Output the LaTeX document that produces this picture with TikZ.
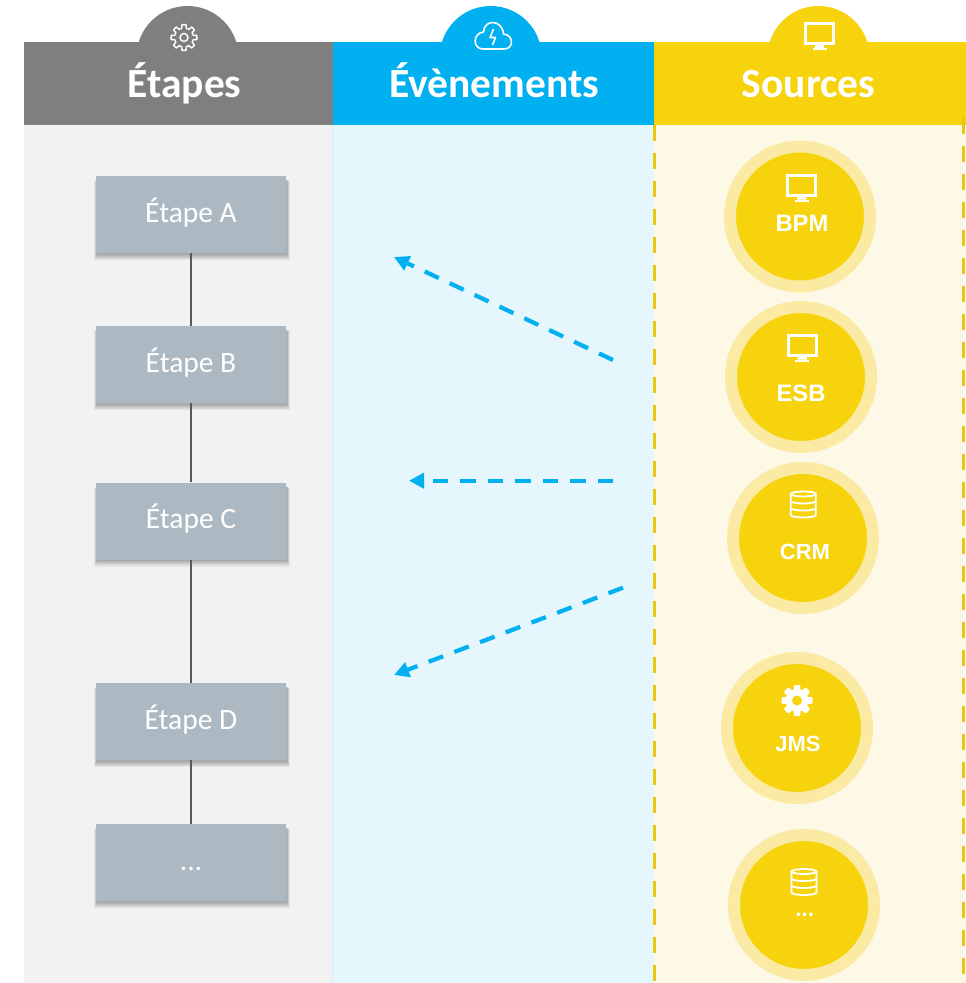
\documentclass[tikz,border=0pt]{standalone}
\usepackage{fontspec}
\newfontfamily\carlito{Carlito}
\newfontfamily\arialf{Liberation Sans}
\usetikzlibrary{arrows.meta,calc}
\definecolor{hgray}{HTML}{7F7F7F}
\definecolor{evblue}{HTML}{00B0F0}
\definecolor{yel}{HTML}{F6D30C}
\definecolor{bggray}{HTML}{F2F2F2}
\definecolor{bgblue}{HTML}{E5F6FD}
\definecolor{bgyel}{HTML}{FEF8E7}
\definecolor{ring}{HTML}{FAEAA3}
\definecolor{boxc}{HTML}{ADB9C2}
\definecolor{connc}{HTML}{595959}
\definecolor{ydashc}{HTML}{E9C610}
\definecolor{sepc}{HTML}{DFE8EC}
\tikzset{
  monitor/.pic={
    \draw[white,line width=3pt] (-14,-12) rectangle (14,8);
    \fill[white] (-4,9.5) -- (4,9.5) -- (5,12.5) -- (-5,12.5) -- cycle;
    \fill[white] (-7,12.5) rectangle (7,14.5);
  },
  dbicon/.pic={
    \draw[white,line width=1.8pt] (0,-10.5) ellipse (12.5 and 2.5);
    \draw[white,line width=1.8pt] (-12.5,-10.5) -- (-12.5,10.5)
      arc[start angle=180,end angle=0,x radius=12.5,y radius=2.5] -- (12.5,-10.5);
    \draw[white,line width=1.8pt] (-12.5,-3.5) arc[start angle=180,end angle=0,x radius=12.5,y radius=2.5];
    \draw[white,line width=1.8pt] (-12.5,3.5) arc[start angle=180,end angle=0,x radius=12.5,y radius=2.5];
  },
  gearf/.pic={
    \fill[white] (0,0) circle (11.5);
    \foreach \a in {0,45,...,315}
      \fill[white,rotate=\a,rounded corners=1pt] (-3.4,-15.5) rectangle (3.4,-8);
    \fill[yel] (0,0) circle (5);
  },
  gearo/.pic={
    \draw[white,line width=1.4pt,line join=round] (-14:9.5)
      \foreach \a in {0,45,...,315}{ -- (\a-14:9.5) -- (\a-9:13) -- (\a+9:13) -- (\a+14:9.5) } -- cycle;
    \draw[white,line width=1.4pt] (0,0) circle (4);
  },
  cloud/.pic={
    \draw[white,line width=1.6pt,line join=round] (-10,13) -- (11,13)
      .. controls (21,13) and (21,-1) .. (10.5,-2)
      .. controls (9,-17) and (-9,-17) .. (-9.5,-4)
      .. controls (-20.5,-3) and (-20.5,13) .. (-10,13) -- cycle;
    \draw[white,line width=1.6pt,line join=round] (0.5,-7) -- (-3,1.5) -- (2.5,1.5) -- (-0.5,9);
  },
  softshadow/.pic={
    \foreach \k in {0,1,...,5}
      \fill[black,opacity=0.055] (-95+1-\k*0.6,-38.5+3.5+\k*0.3) rectangle (95+1+\k*0.6,38.5+1.5+\k*1.1);
  }
}
\begin{document}
\begin{tikzpicture}[x=1pt,y=-1pt,
  stagebox/.style={rectangle, fill=boxc, minimum width=190pt, minimum height=77pt, inner sep=0pt,
    text=white, font=\carlito\fontsize{29.5}{29.5}\selectfont, text height=20pt, text depth=5pt},
  src/.style={circle, fill=yel, draw=ring, line width=12pt, minimum size=140pt, inner sep=0pt},
  srclabel/.style={anchor=base, text=white, font=\arialf\bfseries\fontsize{22}{22}\selectfont, inner sep=0pt},
  srcbig/.style={srclabel, font=\arialf\bfseries\fontsize{23.8}{24}\selectfont},
  head/.style={anchor=base, text=white, font=\carlito\bfseries\fontsize{41.5}{41.5}\selectfont, inner sep=0pt},
  conn/.style={draw=connc, line width=1.5pt},
  evarrow/.style={draw=evblue, line width=4.2pt, dash pattern=on 15.5pt off 12pt, -{Triangle[length=15pt,width=15pt]}},
  ydash/.style={draw=ydashc, line width=3pt, dash pattern=on 16pt off 12pt}
]
\useasboundingbox (0,0) rectangle (966,983);
\fill[white] (0,0) rectangle (966,983);
% column backgrounds
\fill[bggray] (24,125) rectangle (332,983);
\fill[bgblue] (332,125) rectangle (654,983);
\fill[bgyel] (654,125) rectangle (966,983);
\draw[sepc,line width=1pt] (332,125) -- (332,983);
% header tabs
\fill[hgray] (187.5,57) circle (51);
\fill[evblue] (490.7,57) circle (51);
\fill[yel] (818.5,57) circle (51);
% header bars
\fill[hgray] (24,42) rectangle (333,125);
\fill[evblue] (333,42) rectangle (654,125);
\fill[yel] (654,42) rectangle (966,125);
% header icons
\pic (hgear) at (184,37.5) {gearo};
\pic (hcloud) at (493,36) {cloud};
\pic (hmon) at (819.5,35.5) {monitor};
% header titles
\node[head] (hetapes) at (184.5,97) {Étapes};
\node[head] (hevents) at (494,97) {Évènements};
\node[head] (hsources) at (808.5,97) {Sources};
% dashed borders of sources column
\draw[ydash] (654,125) -- (654,983);
\draw[ydash] (963,118) -- (963,983);
% stage shadows
\pic (sha) at (191,214.5) {softshadow};
\pic (shb) at (191,364.5) {softshadow};
\pic (shc) at (191,521) {softshadow};
\pic (shd) at (191,721.5) {softshadow};
\pic (she) at (191,862.5) {softshadow};
% stages
\node[stagebox] (sa) at (191,214.5) {Étape A};
\node[stagebox] (sb) at (191,364.5) {Étape B};
\node[stagebox] (sc) at (191,521) {Étape C};
\node[stagebox] (sd) at (191,721.5) {Étape D};
\node[stagebox] (se) at (191,862.5) {...};
\draw[conn] (sa) -- (sb);
\draw[conn] (sb) -- (sc);
\draw[conn] (sc) -- (sd);
\draw[conn] (sd) -- (se);
% sources
\node[src] (bpm) at (800,216.5) {};
\node[src] (esb) at (801,377) {};
\node[src] (crm) at (803,538) {};
\node[src] (jms) at (797,728) {};
\node[src] (more) at (804,905) {};
\pic (bpmicon) at (801.7,187) {monitor};
\pic (esbicon) at (802.3,347) {monitor};
\pic (crmicon) at (803.3,504.5) {dbicon};
\pic (jmsicon) at (797,700.5) {gearf};
\pic (moreicon) at (804,882) {dbicon};
\node[srcbig] (bpml) at (802,231) {BPM};
\node[srcbig] (esbl) at (801,401) {ESB};
\node[srclabel] (crml) at (805,559.3) {CRM};
\node[srclabel] (jmsl) at (798,751.7) {JMS};
\node[srclabel] (morel) at (804.7,916) {...};
% event arrows
\coordinate (e1s) at (613,360);
\coordinate (e1t) at (394,257);
\coordinate (e2s) at (613,480.7);
\coordinate (e2t) at (409,480.7);
\coordinate (e3s) at (623,587.7);
\coordinate (e3t) at (394,675);
\draw[evarrow] (e1s) -- (e1t);
\draw[evarrow] (e2s) -- (e2t);
\draw[evarrow] (e3s) -- (e3t);
\end{tikzpicture}
\end{document}
